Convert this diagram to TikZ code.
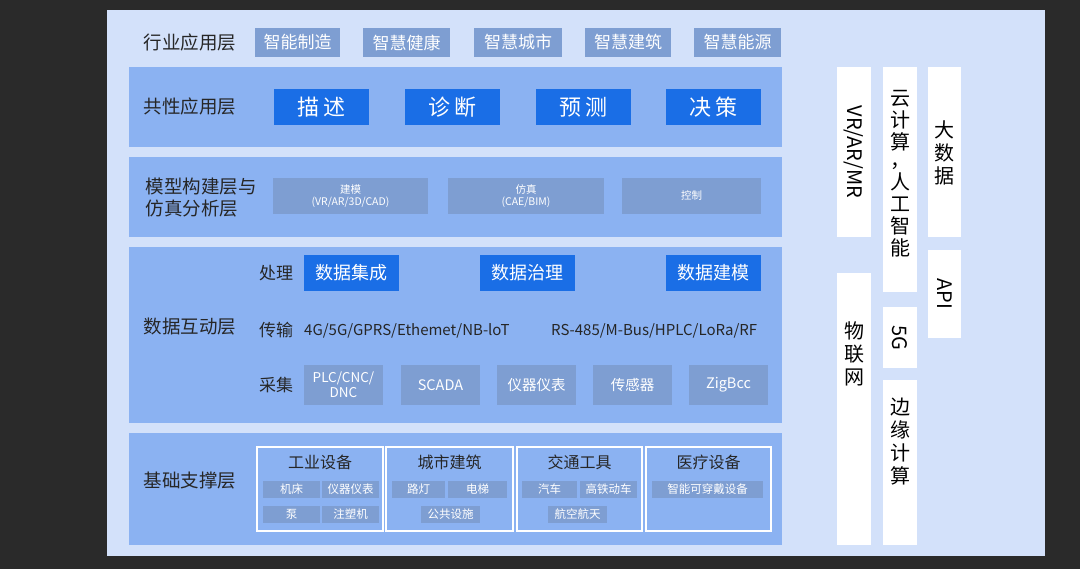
\documentclass[tikz,border=0pt]{standalone}
\usepackage{fontspec}
\setmainfont{Noto Sans CJK SC}
\begin{document}
\begin{tikzpicture}[x=1pt,y=-1pt,
  layer/.style={fill=layerc,draw=none},
  gbox/.style={fill=grayc,draw=none,text=white,inner sep=0pt},
  bbox/.style={fill=bluec,draw=none,text=white,inner sep=0pt,font=\fontsize{22}{24}\selectfont},
  wcol/.style={fill=white,draw=none},
  lab/.style={font=\fontsize{18.5}{22}\selectfont,text=black!85},
  sbox/.style={fill=grayc,text=white,inner sep=0pt,font=\fontsize{10}{12}\selectfont},
  frame/.style={draw=white,line width=2.5pt,fill=layerc}]
\definecolor{bgc}{HTML}{D3E1FA}
\definecolor{layerc}{HTML}{8BB2F2}
\definecolor{grayc}{HTML}{7E9ED2}
\definecolor{bluec}{HTML}{1A6EE6}
\definecolor{darkc}{HTML}{2A2A2A}
\useasboundingbox (0,0) rectangle (1080,569);
\fill[darkc] (0,0) rectangle (1080,569);
\fill[bgc] (107,10) rectangle (1045,556);
% row 1
\node[lab] (l1) at (190,42) {行业应用层};
\foreach \a/\b/\t/\n in {255/340/智能制造/a,363/450/智慧健康/b,474/562/智慧城市/c,585/671/智慧建筑/d,694/781/智慧能源/e}
  \path[gbox] (\a,28) rectangle (\b,57) node[midway,font=\fontsize{17}{19}\selectfont] (r1\n) {\t};
% layer 2
\fill[layer] (129,67) rectangle (782,147);
\node[lab] (l2) at (190,106) {共性应用层};
\foreach \a/\t/\n in {274/描\,述/a,405/诊\,断/b,536/预\,测/c,666/决\,策/d}
  \path[bbox] (\a,89) rectangle ++(95,36) node[midway] (r2\n) {\t};
% layer 3
\fill[layer] (129,157) rectangle (782,237);
\node[lab,align=left] (l3) at (201,198) {模型构建层与\\仿真分析层};
\path[sbox] (273,178) rectangle (428,214) node[midway,align=center,font=\fontsize{10.5}{12.5}\selectfont] (r3a) {建模\\(VR/AR/3D/CAD)};
\path[sbox] (448,178) rectangle (604,214) node[midway,align=center,font=\fontsize{10.5}{12.5}\selectfont] (r3b) {仿真\\(CAE/BIM)};
\path[sbox] (622,178) rectangle (761,214) node[midway,font=\fontsize{10.5}{12.5}\selectfont] (r3c) {控制};
% layer 4
\fill[layer] (129,247) rectangle (782,423);
\node[lab] (l4) at (190,327) {数据互动层};
\node[lab,font=\fontsize{17}{19}\selectfont] (p1) at (276,273) {处理};
\node[lab,font=\fontsize{17}{19}\selectfont] (p2) at (276,330) {传输};
\node[lab,font=\fontsize{17}{19}\selectfont] (p3) at (276,385) {采集};
\foreach \a/\t/\n in {304/数据集成/a,480/数据治理/b,666/数据建模/c}
  \path[bbox] (\a,255) rectangle ++(95,36) node[midway,font=\fontsize{18}{20}\selectfont] (r4\n) {\t};
\node[anchor=west,font=\fontsize{15}{17}\selectfont,text=black!85,inner sep=0pt] (t1) at (304,331) {4G/5G/GPRS/Ethemet/NB-loT};
\node[anchor=west,font=\fontsize{15}{17}\selectfont,text=black!85,inner sep=0pt] (t2) at (551,331) {RS-485/M-Bus/HPLC/LoRa/RF};
\path[gbox] (304,365) rectangle (383,405) node[midway,align=center,font=\fontsize{13.5}{15}\selectfont] (c1) {PLC/CNC/\\DNC};
\foreach \a/\t/\n in {401/SCADA/2,497/仪器仪表/3,593/传感器/4,689/ZigBcc/5}
  \path[gbox] (\a,365) rectangle ++(79,40) node[midway,font=\fontsize{14.5}{16}\selectfont] (c\n) {\t};
% layer 5
\fill[layer] (129,433) rectangle (782,545);
\node[lab] (l5) at (190,481) {基础支撑层};
\foreach \a/\b/\t/\n in {257/383/工业设备/a,386/513/城市建筑/b,517/642/交通工具/c,646/771/医疗设备/d}{
  \path[frame] (\a,447) rectangle (\b,531);
  \node[font=\fontsize{16}{18}\selectfont,text=black!85] (f\n) at ({(\a+\b)/2},462) {\t};}
\foreach \a/\b/\y/\t/\n in {263/320/481/机床/1,322/379/481/仪器仪表/2,263/320/506/泵/3,322/379/506/注塑机/4,392/445/481/路灯/5,448/507/481/电梯/6,421/480/506/公共设施/7,522/577/481/汽车/8,580/637/481/高铁动车/9,548/607/506/航空航天/10,652/763/481/智能可穿戴设备/11}
  \path[sbox] (\a,\y) rectangle (\b,\y+17) node[midway,font=\fontsize{11.5}{13}\selectfont] (s\n) {\t};
% right columns
\path[wcol] (837,67) rectangle (871,237) node[midway,rotate=-90,font=\fontsize{20}{22}\selectfont] (vr) {VR/AR/MR};
\path[wcol] (837,273) rectangle (871,545);
\node[align=center,font=\fontsize{20}{23}\selectfont] (iot) at (854,354) {物\\联\\网};
\path[wcol] (883,67) rectangle (917,292);
\node[align=center,font=\fontsize{20}{22}\selectfont] (cloud) at (900,174) {云\\计\\算\\[-4pt]，\\人\\工\\智\\能};
\path[wcol] (883,307) rectangle (917,368) node[midway,rotate=-90,font=\fontsize{20}{22}\selectfont] (g5) {5G};
\path[wcol] (883,380) rectangle (917,545);
\node[align=center,font=\fontsize{20}{23}\selectfont] (edge) at (900,442) {边\\缘\\计\\算};
\path[wcol] (928,67) rectangle (961,237);
\node[align=center,font=\fontsize{20}{23}\selectfont] (bd) at (944,153) {大\\数\\据};
\path[wcol] (928,250) rectangle (961,338) node[midway,rotate=-90,font=\fontsize{20}{22}\selectfont] (api) {API};
\end{tikzpicture}
\end{document}
